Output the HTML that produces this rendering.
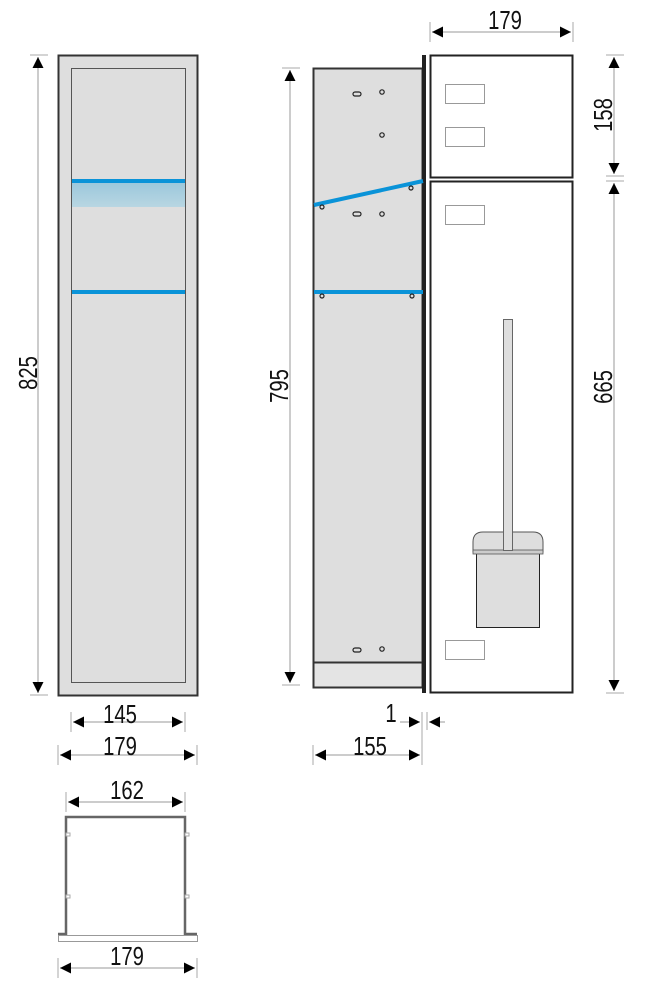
<!DOCTYPE html>
<html><head><meta charset="utf-8"><style>
html,body{margin:0;padding:0;background:#fff;}
svg{display:block;}
text{font-family:"Liberation Sans",sans-serif;font-size:26px;fill:#111;}
</style></head><body>
<svg width="665" height="1005" viewBox="0 0 665 1005" xmlns="http://www.w3.org/2000/svg">
<defs>
<marker id="a" viewBox="0 0 10 10" refX="10" refY="5" markerWidth="11" markerHeight="11" markerUnits="userSpaceOnUse" orient="auto-start-reverse"><path d="M0,0L10,5L0,10z" fill="#000"/></marker>
<linearGradient id="g" x1="0" y1="0" x2="0" y2="1"><stop offset="0" stop-color="#9cc8dc"/><stop offset="1" stop-color="#b8d6e2"/></linearGradient>
</defs>
<g stroke="#aaa" stroke-width="1" fill="none">
<line x1="30" y1="55" x2="48" y2="55"/><line x1="30" y1="695" x2="48" y2="695"/>
<line x1="282" y1="68" x2="300" y2="68"/><line x1="282" y1="685" x2="300" y2="685"/>
<line x1="606" y1="55" x2="624" y2="55"/><line x1="606" y1="176" x2="624" y2="176"/><line x1="606" y1="181" x2="624" y2="181"/><line x1="606" y1="693" x2="624" y2="693"/>
<line x1="71" y1="712" x2="71" y2="732"/><line x1="185" y1="712" x2="185" y2="732"/>
<line x1="58" y1="745" x2="58" y2="765"/><line x1="197" y1="745" x2="197" y2="765"/>
<line x1="313" y1="745" x2="313" y2="765"/><line x1="422" y1="712" x2="422" y2="765"/><line x1="427" y1="712" x2="427" y2="730"/>
<line x1="430" y1="22" x2="430" y2="42"/><line x1="573" y1="22" x2="573" y2="42"/>
<line x1="66" y1="792" x2="66" y2="812"/><line x1="185" y1="792" x2="185" y2="812"/>
<line x1="58" y1="958" x2="58" y2="978"/><line x1="197" y1="958" x2="197" y2="978"/>
</g>
<g stroke="#999" stroke-width="1">
<line x1="38" y1="57" x2="38" y2="693" marker-start="url(#a)" marker-end="url(#a)"/>
<line x1="290" y1="70" x2="290" y2="683" marker-start="url(#a)" marker-end="url(#a)"/>
<line x1="614" y1="57" x2="614" y2="174" marker-start="url(#a)" marker-end="url(#a)"/>
<line x1="614" y1="183" x2="614" y2="691" marker-start="url(#a)" marker-end="url(#a)"/>
<line x1="73" y1="722" x2="183" y2="722" marker-start="url(#a)" marker-end="url(#a)"/>
<line x1="60" y1="755" x2="195" y2="755" marker-start="url(#a)" marker-end="url(#a)"/>
<line x1="315" y1="755" x2="420" y2="755" marker-start="url(#a)" marker-end="url(#a)"/>
<line x1="400" y1="722" x2="420" y2="722" marker-end="url(#a)"/>
<line x1="445" y1="722" x2="429" y2="722" marker-end="url(#a)"/>
<line x1="432" y1="32" x2="571" y2="32" marker-start="url(#a)" marker-end="url(#a)"/>
<line x1="68" y1="802" x2="183" y2="802" marker-start="url(#a)" marker-end="url(#a)"/>
<line x1="60" y1="968" x2="195" y2="968" marker-start="url(#a)" marker-end="url(#a)"/>
</g>
<rect x="58.5" y="55.5" width="139" height="640" fill="#dedede" stroke="#333" stroke-width="2"/>
<rect x="71.5" y="68.5" width="114" height="614" fill="#dedede" stroke="#555" stroke-width="1"/>
<rect x="72" y="183" width="113" height="24" fill="url(#g)"/>
<rect x="72" y="179" width="113" height="4" fill="#0a93d8"/>
<rect x="72" y="290" width="113" height="4" fill="#0a93d8"/>
<rect x="313.5" y="68.5" width="109" height="594" fill="#dedede" stroke="#333" stroke-width="2"/>
<rect x="313.5" y="662.5" width="109" height="25" fill="#e4e4e4" stroke="#333" stroke-width="2"/>
<rect x="422" y="55" width="4" height="638" fill="#222"/>
<line x1="314" y1="205" x2="423" y2="181" stroke="#0a93d8" stroke-width="4"/>
<rect x="314" y="290" width="109" height="4" fill="#0a93d8"/>
<g fill="none" stroke="#222" stroke-width="1.2">
<rect x="353" y="92" width="8" height="4" rx="2"/><rect x="353" y="212" width="8" height="4" rx="2"/><rect x="353" y="648" width="8" height="4" rx="2"/>
<circle cx="382" cy="92" r="2.2"/><circle cx="382" cy="135" r="2.2"/><circle cx="382" cy="214" r="2.2"/><circle cx="382" cy="649" r="2.2"/>
<circle cx="322" cy="207" r="2"/><circle cx="411" cy="188" r="2"/><circle cx="322" cy="296" r="2"/><circle cx="412" cy="296" r="2"/>
</g>
<rect x="430.5" y="55.5" width="142" height="122" fill="#fff" stroke="#222" stroke-width="2"/>
<rect x="430.5" y="181.5" width="142" height="511" fill="#fff" stroke="#222" stroke-width="2"/>
<g fill="#fff" stroke="#999" stroke-width="1">
<rect x="445.5" y="84.5" width="39" height="19"/><rect x="445.5" y="127.5" width="39" height="19"/>
<rect x="445.5" y="205.5" width="39" height="19"/><rect x="445.5" y="640.5" width="39" height="19"/>
</g>
<rect x="476.5" y="553.5" width="63" height="74" fill="#dedede" stroke="#222" stroke-width="1"/>
<path d="M473,552 L473,542 Q473,532 483,532 L533,532 Q543,532 543,542 L543,552 Z" fill="#dedede" stroke="#555"/>
<rect x="473" y="550" width="70" height="4" fill="#ccc" stroke="#555" stroke-width="0.8"/>
<rect x="503.5" y="319.5" width="9" height="231" fill="#dedede" stroke="#666"/>
<path d="M66,935 L66,817 L185,817 L185,935" fill="none" stroke="#666" stroke-width="2.5"/>
<line x1="58" y1="934" x2="66" y2="934" stroke="#666" stroke-width="2.5"/>
<line x1="185" y1="934" x2="197" y2="934" stroke="#666" stroke-width="2.5"/>
<rect x="58.5" y="935.5" width="139" height="6" fill="#fff" stroke="#999"/>
<g fill="#fff" stroke="#aaa" stroke-width="1"><rect x="66" y="833" width="4" height="3"/><rect x="185" y="833" width="4" height="3"/><rect x="66" y="895" width="4" height="3"/><rect x="185" y="895" width="4" height="3"/></g>
<g text-anchor="middle">
<text transform="translate(120,723) scale(0.78,1)">145</text>
<text transform="translate(120,755) scale(0.78,1)">179</text>
<text transform="translate(370,755) scale(0.78,1)">155</text>
<text transform="translate(391,722) scale(0.78,1)">1</text>
<text transform="translate(505,29) scale(0.78,1)">179</text>
<text transform="translate(127,799) scale(0.78,1)">162</text>
<text transform="translate(127,965) scale(0.78,1)">179</text>
<text transform="translate(37,373) rotate(-90) scale(0.78,1)">825</text>
<text transform="translate(288,386) rotate(-90) scale(0.78,1)">795</text>
<text transform="translate(612,115) rotate(-90) scale(0.78,1)">158</text>
<text transform="translate(612,387) rotate(-90) scale(0.78,1)">665</text>
</g>
</svg>
</body></html>
